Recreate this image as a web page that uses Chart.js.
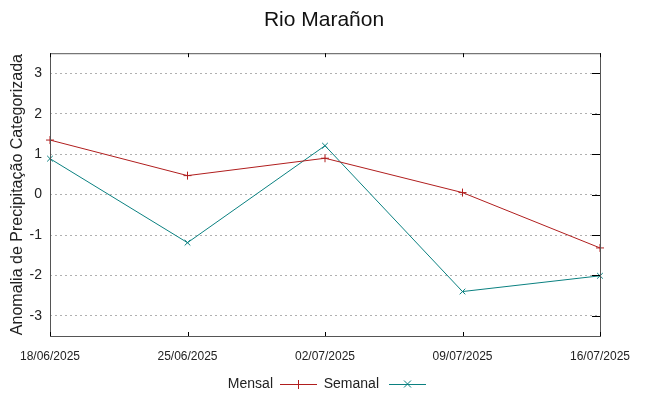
<!DOCTYPE html>
<html>
<head>
<meta charset="utf-8">
<script src="https://cdn.jsdelivr.net/npm/chart.js@4"></script>
<style>
  html, body { margin: 0; padding: 0; background: #fff; }
  #wrap { width: 648px; height: 396px; }
</style>
</head>
<body>
<div id="wrap"><canvas id="chart" width="648" height="396"></canvas></div>
<script>
const dates = ['18/06/2025', '25/06/2025', '02/07/2025', '09/07/2025', '16/07/2025'];
const mensal = [1.35, 0.47, 0.90, 0.05, -1.32];
const semanal = [0.89, -1.19, 1.21, -2.40, -2.01];
const yTicks = [-3, -2, -1, 0, 1, 2, 3];

const FONT = 'Liberation Sans, Arial, sans-serif';
const RED = '#b01e1e';
const TEAL = '#0a8080';

// frame, mirrored ticks and the gnuplot-style key below the plot
const framePlugin = {
  id: 'frame',
  afterDatasetsDraw(chart) {
    const ctx = chart.ctx;
    const a = chart.chartArea;
    const x = chart.scales.x, y = chart.scales.y;
    ctx.save();
    ctx.strokeStyle = '#555';
    ctx.lineWidth = 1;
    ctx.strokeRect(a.left + 0.5, a.top + 0.5, a.right - a.left, a.bottom - a.top);
    ctx.strokeStyle = '#000';
    ctx.beginPath();
    dates.forEach((d, i) => {
      const px = Math.round(x.getPixelForValue(i)) + 0.5;
      ctx.moveTo(px, a.top); ctx.lineTo(px, a.top + 4);
      ctx.moveTo(px, a.bottom); ctx.lineTo(px, a.bottom - 4);
    });
    yTicks.forEach(v => {
      const py = Math.round(y.getPixelForValue(v)) + 0.5;
      ctx.moveTo(a.right, py); ctx.lineTo(a.right - 8, py);
    });
    ctx.stroke();

    // key
    const ky = 384;
    ctx.font = '14px ' + FONT;
    ctx.fillStyle = '#222';
    ctx.textBaseline = 'middle';
    ctx.textAlign = 'right';
    ctx.fillText('Mensal', 273, ky);
    ctx.fillText('Semanal', 379, ky);
    ctx.lineWidth = 1;
    ctx.strokeStyle = RED;
    ctx.beginPath();
    ctx.moveTo(280, ky + 0.5); ctx.lineTo(317, ky + 0.5);
    ctx.moveTo(298.5, ky - 4); ctx.lineTo(298.5, ky + 5);
    ctx.stroke();
    ctx.strokeStyle = TEAL;
    ctx.beginPath();
    ctx.moveTo(389, ky + 0.5); ctx.lineTo(426, ky + 0.5);
    ctx.moveTo(404, ky - 3.5); ctx.lineTo(411, ky + 3.5);
    ctx.moveTo(411, ky - 3.5); ctx.lineTo(404, ky + 3.5);
    ctx.stroke();
    ctx.restore();
  }
};

new Chart(document.getElementById('chart'), {
  type: 'line',
  data: {
    labels: dates,
    datasets: [{
      label: 'Mensal',
      data: mensal,
      borderColor: RED,
      backgroundColor: RED,
      borderWidth: 1,
      pointStyle: 'cross',
      pointRadius: 4,
      pointBorderWidth: 1,
      tension: 0,
      fill: false
    }, {
      label: 'Semanal',
      data: semanal,
      borderColor: TEAL,
      backgroundColor: TEAL,
      borderWidth: 1,
      pointStyle: 'crossRot',
      pointRadius: 4,
      pointBorderWidth: 1,
      tension: 0,
      fill: false
    }]
  },
  options: {
    responsive: false,
    animation: false,
    layout: { padding: 0 },
    plugins: {
      legend: { display: false },
      tooltip: { enabled: false },
      title: {
        display: true,
        text: 'Rio Marañon',
        color: '#111',
        font: { family: FONT, size: 21, weight: 'normal' },
        padding: { top: 8, bottom: 20 }
      }
    },
    scales: {
      x: {
        type: 'category',
        offset: false,
        afterFit(s) { s.height = 60; },
        grid: { display: false, drawTicks: false },
        border: { display: false },
        ticks: {
          color: '#222',
          font: { family: FONT, size: 12 },
          padding: 13,
          maxRotation: 0,
          autoSkip: false
        }
      },
      y: {
        min: -3.5,
        max: 3.5,
        afterFit(s) { s.width = 50; },
        afterBuildTicks(s) { s.ticks = yTicks.map(v => ({ value: v })); },
        grid: {
          color: '#b0b0b0',
          drawTicks: false
        },
        border: { display: false, dash: [2, 3] },
        ticks: {
          color: '#222',
          font: { family: FONT, size: 14 },
          padding: 8
        },
        title: {
          display: true,
          text: 'Anomalia de Precipitação Categorizada',
          color: '#222',
          font: { family: FONT, size: 16 },
          padding: { top: 8, bottom: 0 }
        }
      },
      yr: {
        position: 'right',
        min: -3.5,
        max: 3.5,
        afterFit(s) { s.width = 48; },
        grid: { display: false, drawTicks: false },
        border: { display: false },
        ticks: { display: false }
      }
    }
  },
  plugins: [framePlugin]
});
</script>
</body>
</html>
